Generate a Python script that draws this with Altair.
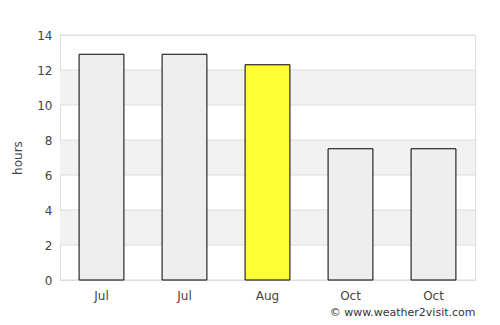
import altair as alt
import pandas as pd

months = ["Jul", "Jul", "Aug", "Oct", "Oct"]
hours = [12.9, 12.9, 12.3, 7.5, 7.5]
colors = ["#eeeeee", "#eeeeee", "#ffff33", "#eeeeee", "#eeeeee"]
band_lo = [10, 6, 2]
band_hi = [12, 8, 4]
grid_vals = [0, 2, 4, 6, 8, 10, 12, 14]

keys = [str(i) for i in range(len(months))]
df = pd.DataFrame({"key": keys, "month": months, "hours": hours, "color": colors})
bands = pd.DataFrame({"lo": band_lo, "hi": band_hi})
grid = pd.DataFrame({"v": grid_vals})

label_expr = "[" + ",".join("'%s'" % m for m in months) + "][toNumber(datum.value)]"

yscale = alt.Scale(domain=[0, 14], nice=False)

yaxis = alt.Axis(
    title="hours",
    values=grid_vals,
    grid=False,
    ticks=False,
    domain=False,
    labelOverlap=False,
    labelColor="#444444",
    labelFontSize=12,
    labelFont="DejaVu Sans",
    labelPadding=8,
    titleColor="#444444",
    titleFontSize=12,
    titleFont="DejaVu Sans",
    titleFontWeight="normal",
    titlePadding=12,
)

band_layer = alt.Chart(bands).mark_rect(color="#f2f2f2").encode(
    y=alt.Y("lo:Q", scale=yscale, axis=yaxis, title="hours"),
    y2="hi:Q",
)

grid_layer = alt.Chart(grid).mark_rule(color="#dddddd", strokeWidth=1).encode(
    y=alt.Y("v:Q", scale=yscale, axis=yaxis, title="hours")
)

bars = alt.Chart(df).mark_bar(stroke="#000000", strokeWidth=1).encode(
    x=alt.X(
        "key:N",
        sort=keys,
        scale=alt.Scale(paddingInner=0.46, paddingOuter=0.23),
        axis=alt.Axis(
            title=None,
            labelExpr=label_expr,
            labelAngle=0,
            ticks=False,
            domain=False,
            labelColor="#444444",
            labelFontSize=12,
            labelFont="DejaVu Sans",
            labelPadding=10,
            labelOverlap=False,
        ),
    ),
    y=alt.Y("hours:Q", scale=yscale, axis=yaxis, title="hours"),
    fill=alt.Fill("color:N", scale=None),
)

chart = alt.layer(band_layer, grid_layer, bars).properties(
    width=415,
    height=245,
    autosize=alt.AutoSizeParams(type="none"),
    padding={"left": 60, "top": 35, "right": 25, "bottom": 45},
    title=alt.TitleParams(
        "© www.weather2visit.com",
        orient="bottom",
        anchor="end",
        fontSize=11,
        font="DejaVu Sans",
        fontWeight="normal",
        color="#333333",
        offset=6,
    ),
).configure_view(stroke="#dddddd", strokeWidth=1).configure_axis(
    labelOverlap=False
).configure(background="white")

chart.save("out.html", embed_options={"renderer": "svg", "actions": False})
